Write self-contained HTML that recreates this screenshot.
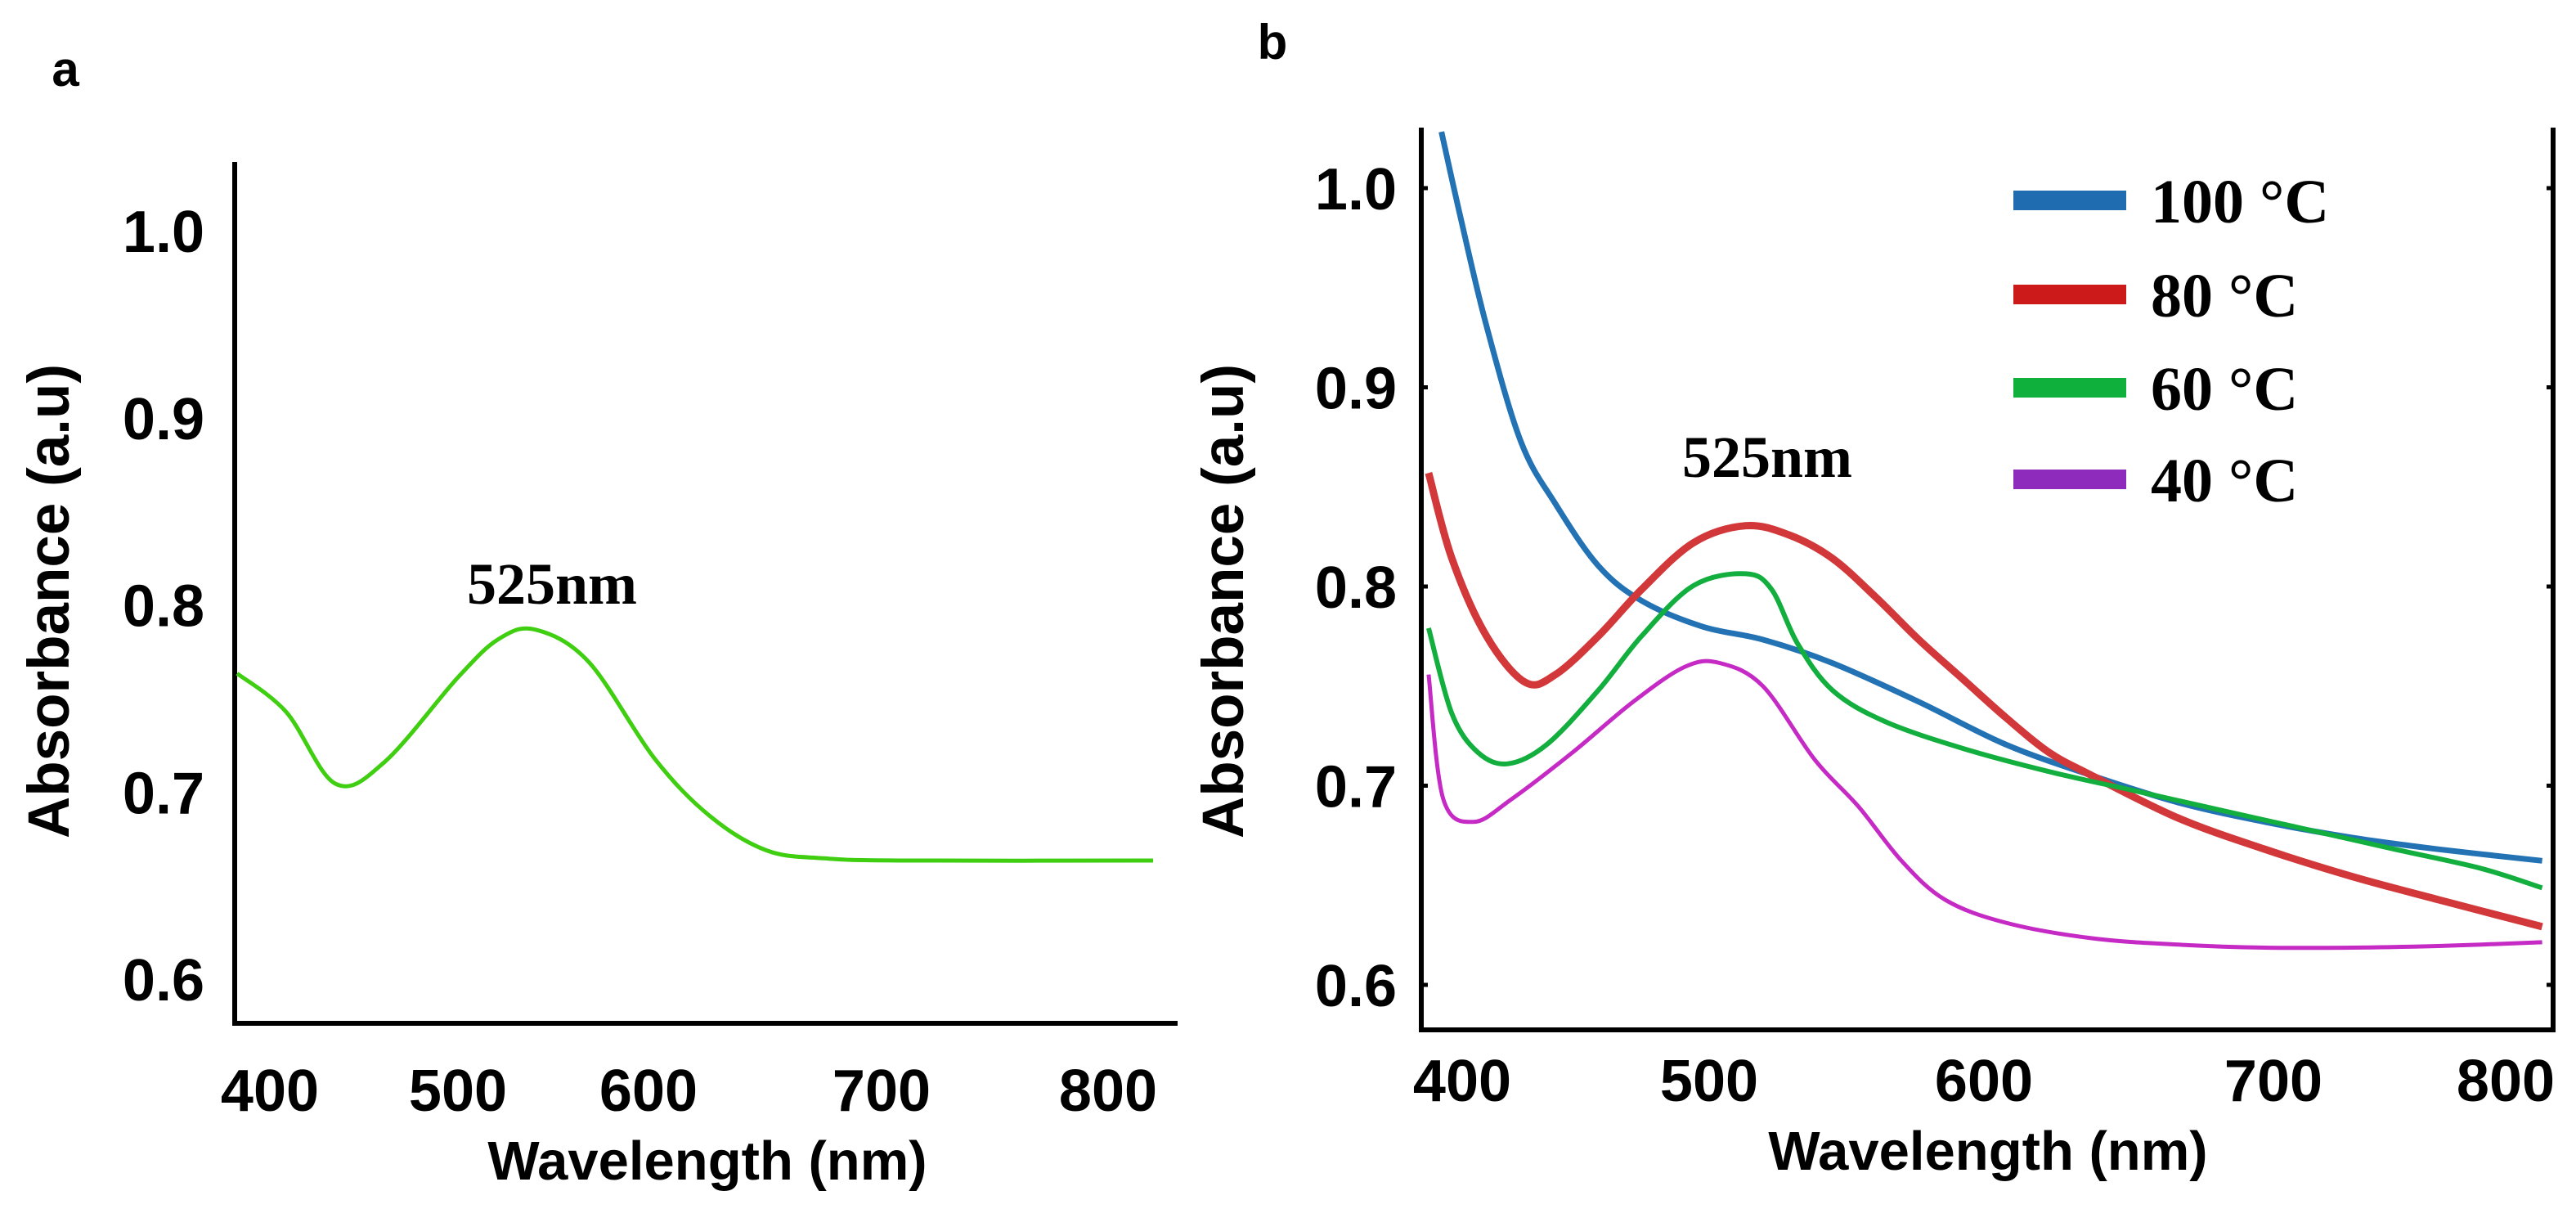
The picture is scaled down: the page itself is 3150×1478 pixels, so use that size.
<!DOCTYPE html>
<html><head><meta charset="utf-8"><style>
html,body{margin:0;padding:0;background:#fff}
svg{display:block}
.tk{font-family:"Liberation Sans",sans-serif;font-weight:bold;font-size:72px;fill:#000}
.ttl{font-family:"Liberation Sans",sans-serif;font-weight:bold;font-size:67px;fill:#000}
.ttly{font-family:"Liberation Sans",sans-serif;font-weight:bold;font-size:71px;fill:#000}
.lbl{font-family:"Liberation Sans",sans-serif;font-weight:bold;font-size:60px;fill:#000}
.tm{font-family:"Liberation Serif",serif;font-weight:bold;font-size:72px;fill:#000}
.lg{font-family:"Liberation Serif",serif;font-weight:bold;font-size:76px;fill:#000}
</style></head><body>
<svg id="fig" width="3150" height="1478" viewBox="0 0 3150 1478" xmlns="http://www.w3.org/2000/svg">
<text class="lbl" x="80" y="105" text-anchor="middle">a</text>
<text class="lbl" x="1556" y="72" text-anchor="middle">b</text>
<g id="pa"></g>
<g id="pb"></g>
</svg>
<script>
const xTicks=[400,500,600,700,800];
const yTicks=[0.6,0.7,0.8,0.9,1.0];
const yTickLabels=["0.6","0.7","0.8","0.9","1.0"];
const aWl=[382.6,408.7,434.8,460.9,500,521.5,540.8,568.7,602.5,626.3,650.9,675.4,707.9,819.9];
const aAbs=[0.7634,0.7428,0.7045,0.716,0.7613,0.7819,0.7868,0.7695,0.7181,0.6872,0.6687,0.6646,0.6634,0.6634];
const b100Wl=[391.6,399.3,409.8,423.8,437.8,455.2,472.7,497.2,519.6,544.8,576.3,607.5,637.3,667.2,697.0,733.6,770.9,815.7];
const b100Abs=[1.0283,0.9855,0.9310,0.8726,0.8414,0.8103,0.7928,0.7799,0.7733,0.7616,0.7421,0.7207,0.7051,0.6915,0.6818,0.6740,0.6681,0.6623];
const b80Wl=[386.4,395.8,409.8,425.5,437.8,455.2,472.7,493.7,513.2,529.0,544.8,560.6,576.3,592.1,607.5,622.4,637.3,667.2,697.0,733.6,770.9,815.7];
const b80Abs=[0.857,0.8142,0.7752,0.7519,0.7558,0.7752,0.7986,0.8220,0.8305,0.8259,0.8142,0.7947,0.7733,0.7538,0.7343,0.7168,0.7051,0.6837,0.6681,0.6545,0.6428,0.6292];
const b60Wl=[386.4,395.8,406.3,418.5,434.3,455.2,472.7,493.7,513.2,522.7,532.2,544.8,563.7,592.1,622.4,652.2,682.1,714.9,752.2,789.6,815.7];
const b60Abs=[0.7791,0.7363,0.7168,0.7110,0.7207,0.7480,0.7752,0.8005,0.8064,0.7986,0.7713,0.7480,0.7324,0.7188,0.7071,0.6974,0.6876,0.6779,0.6681,0.6584,0.6487];
const b40Wl=[386.4,392.3,404.5,420.3,444.8,469.2,490.2,503.8,519.6,538.5,554.3,570.0,585.8,607.5,637.3,667.2,697.0,733.6,770.9,815.7];
const b40Abs=[0.7558,0.6935,0.6818,0.6935,0.7168,0.7421,0.7597,0.7616,0.7499,0.7129,0.6896,0.6623,0.6428,0.6312,0.6234,0.6202,0.6187,0.6187,0.6195,0.6214];
const legendLabels=["100 °C","80 °C","60 °C","40 °C"];
const NS="http://www.w3.org/2000/svg";
function mk(parent,tag,attrs){const e=document.createElementNS(NS,tag);for(const k in attrs)e.setAttribute(k,attrs[k]);parent.appendChild(e);return e;}
function pw(px){return function(w){let i=0;while(i<xTicks.length-2&&w>xTicks[i+1])i++;return px[i]+(w-xTicks[i])*(px[i+1]-px[i])/(xTicks[i+1]-xTicks[i]);};}
function smooth(pts){let d="M"+pts[0][0]+","+pts[0][1];for(let i=0;i<pts.length-1;i++){const p0=pts[Math.max(0,i-1)],p1=pts[i],p2=pts[i+1],p3=pts[Math.min(pts.length-1,i+2)];const c1=[p1[0]+(p2[0]-p0[0])/6,p1[1]+(p2[1]-p0[1])/6],c2=[p2[0]-(p3[0]-p1[0])/6,p2[1]-(p3[1]-p1[1])/6];d+="C"+c1[0].toFixed(1)+","+c1[1].toFixed(1)+" "+c2[0].toFixed(1)+","+c2[1].toFixed(1)+" "+p2[0].toFixed(1)+","+p2[1].toFixed(1);}return d;}
function panel(g,o){
  const xs=pw(o.xpx), ys=v=>o.y06-(v-0.6)*o.yk;
  const cp=mk(g,"clipPath",{id:o.id+"clip"});mk(cp,"rect",{x:o.left,y:o.top,width:o.right-o.left,height:o.bottom-o.top});
  const ax=mk(g,"path",{d:"M"+o.left+","+o.top+"V"+o.bottom+"H"+o.right+(o.box?"V"+o.top:""),fill:"none",stroke:"#000","stroke-width":6});
  
  
  yTicks.forEach((v,i)=>{const t=mk(g,"text",{class:"tk",x:o.ylabX,y:ys(v)+26,"text-anchor":"end"});t.textContent=yTickLabels[i];
    
    
    if(o.box){const m=mk(g,"path",{d:"M"+o.left+","+ys(v)+"h8M"+o.right+","+ys(v)+"h-8",stroke:"#000","stroke-width":5});
      
      }});
  xTicks.forEach(w=>{const t=mk(g,"text",{class:"tk",x:xs(w),y:o.xlabY,"text-anchor":"middle"});t.textContent=String(w);
    
    });
  const xt=mk(g,"text",{class:"ttl",x:o.xtX,y:o.xtY,"text-anchor":"middle"});xt.textContent="Wavelength (nm)";
  
  
  const yt=mk(g,"text",{class:"ttly",x:0,y:0,"text-anchor":"middle",transform:"translate("+o.ytX+",735) rotate(-90)"});yt.textContent="Absorbance (a.u)";
  
  
  o.series.forEach(s=>{const pts=s.wl.map((w,i)=>[xs(w),ys(s.v[i])]);
    const p=mk(g,"path",{d:smooth(pts),fill:"none",stroke:s.c,"stroke-width":s.w,"stroke-linejoin":"round","clip-path":"url(#"+o.id+"clip)"});
    
    });
  const an=mk(g,"text",{class:"tm",x:o.annX,y:o.annY,"text-anchor":"middle"});an.textContent="525nm";
  
  
}
panel(document.getElementById("pa"),{id:"a",left:287,right:1440,top:198,bottom:1251,box:false,xpx:[330,560,793,1078,1355],y06:1197,yk:2287,ylabX:250,xlabY:1358,xtX:865,xtY:1442,ytX:84,annX:675,annY:738,
  series:[{wl:aWl,v:aAbs,c:"#3fcf10",w:5,name:"absorbance-line"}]});
panel(document.getElementById("pb"),{id:"b",left:1738,right:3122,top:156,bottom:1259,box:true,xpx:[1788,2090,2426,2780,3064],y06:1204,yk:2435,ylabX:1708,xlabY:1346,xtX:2431,xtY:1430,ytX:1520,annX:2161,annY:583,
  series:[{wl:b100Wl,v:b100Abs,c:"#2272b4",w:7,name:"line-100c"},{wl:b80Wl,v:b80Abs,c:"#d2383a",w:9,name:"line-80c"},{wl:b60Wl,v:b60Abs,c:"#12ae3e",w:6,name:"line-60c"},{wl:b40Wl,v:b40Abs,c:"#c52ac5",w:5,name:"line-40c"}]});
const legColors=["#1f6db0","#cc1a1a","#10b03c","#8e2bbd"];
const legY=[245,360,474,586];
const svg=document.getElementById("fig");
legendLabels.forEach((l,i)=>{
  const r=mk(svg,"rect",{x:2462,y:legY[i]-12,width:138,height:24,fill:legColors[i]});
  
  
  const t=mk(svg,"text",{class:"lg",x:2630,y:legY[i]+27});t.textContent=l;
  
  
});
</script>
</body></html>
